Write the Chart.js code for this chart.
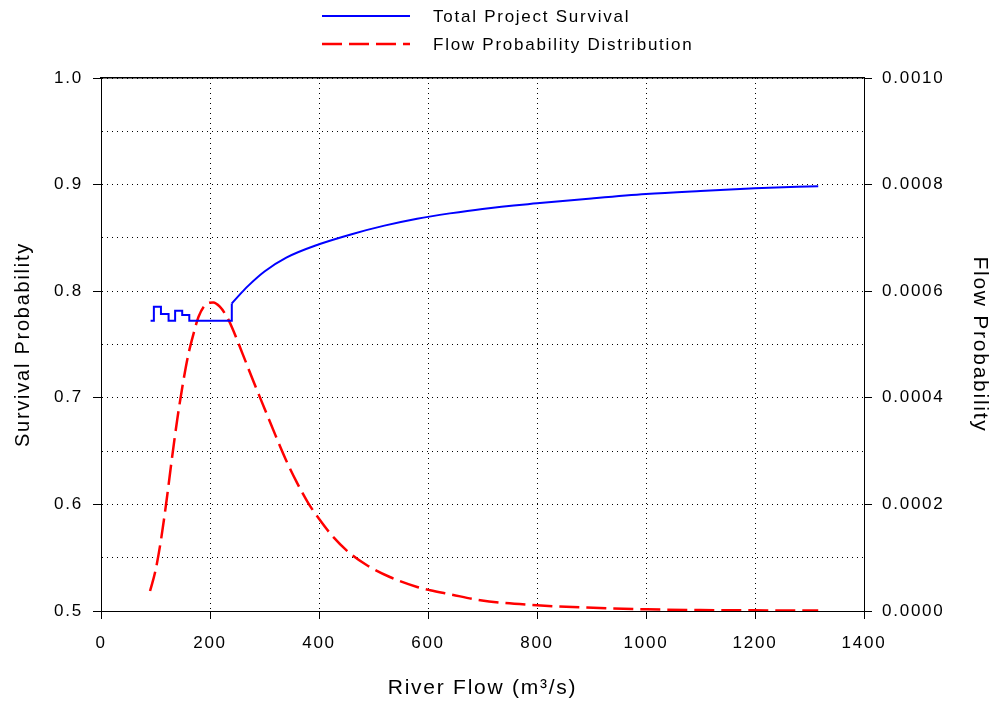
<!DOCTYPE html>
<html>
<head>
<meta charset="utf-8">
<script src="https://cdn.jsdelivr.net/npm/chart.js@4"></script>
<style>
  html, body { margin: 0; padding: 0; background: #ffffff; }
  #wrap { width: 994px; height: 705px; }
</style>
</head>
<body>
<div id="wrap"><canvas id="c" width="994" height="705"></canvas></div>
<script>
// ---- data ----
// Total project survival: stepped low-flow part, then smooth part
const survivalStepFlow = [91, 97, 97, 110, 110, 124, 124, 136, 136, 149, 149, 162, 162, 240, 240];
const survivalStepValue = [0.7722, 0.7722, 0.7854, 0.7854, 0.7785, 0.7785, 0.7722, 0.7722, 0.7816, 0.7816, 0.7776, 0.7776, 0.7722, 0.7722, 0.7885];
const survivalCurveFlow = [240, 255, 270, 300, 340, 400, 460, 520, 580, 640, 700, 800, 900, 1000, 1100, 1200, 1316];
const survivalCurveValue = [0.7885, 0.7970, 0.8050, 0.8185, 0.8315, 0.8440, 0.8535, 0.8615, 0.8680, 0.8730, 0.8772, 0.8824, 0.8870, 0.8911, 0.8940, 0.8965, 0.8985];

// Flow probability distribution
const distFlow = [90, 100, 110, 120, 130, 140, 150, 160, 170, 179, 191, 206, 218, 231, 240, 260, 280, 300, 320, 340, 360, 380, 400, 426, 457, 488, 530, 580, 604, 641, 696, 800, 891, 1001, 1100, 1196, 1316];
const distValue = [0.0000375, 0.000076, 0.000133, 0.000205, 0.000285, 0.000360, 0.000425, 0.000480, 0.000521, 0.000552, 0.000574, 0.000579, 0.000571, 0.000552, 0.000533, 0.000482, 0.000430, 0.000380, 0.000330, 0.000282, 0.000240, 0.000203, 0.000173, 0.000139, 0.000108, 0.0000858, 0.0000638, 0.0000451, 0.0000389, 0.0000313, 0.0000201, 0.0000107, 0.0000064, 0.0000032, 0.0000018, 0.0000012, 0.0000010];

const seriesNames = ['Total Project Survival', 'Flow Probability Distribution'];
const xTitle = 'River Flow (m\u00B3/s)';
const yTitle = 'Survival Probability';
const y2Title = 'Flow Probability';

const FONT = "'Liberation Sans', Arial, sans-serif";
const SPACING = '1.75px';

const spacingPlugin = {
  id: 'spacing',
  beforeUpdate(chart) { chart.ctx.letterSpacing = SPACING; },
  beforeDraw(chart) { chart.ctx.letterSpacing = SPACING; }
};

const legendPlugin = {
  id: 'customLegend',
  afterDraw(chart) {
    const ctx = chart.ctx;
    ctx.save();
    ctx.letterSpacing = SPACING;
    const rows = [16, 44];
    let row = 0;
    chart.data.datasets.forEach((ds) => {
      if (!ds.inLegend) return;
      const y = rows[row++];
      ctx.beginPath();
      ctx.strokeStyle = ds.borderColor;
      ctx.lineWidth = ds.borderWidth;
      ctx.setLineDash(ds.borderDash || []);
      ctx.moveTo(322, y);
      ctx.lineTo(410, y);
      ctx.stroke();
      ctx.setLineDash([]);
      ctx.fillStyle = '#000';
      ctx.font = '17px ' + FONT;
      ctx.textAlign = 'left';
      ctx.textBaseline = 'middle';
      ctx.fillText(ds.label, 433, y + 1);
    });
    ctx.restore();
  }
};

const toPoints = (xs, ys) => xs.map((f, i) => ({ x: f, y: ys[i] }));
const isMajorY = (v) => Math.round(v * 20) % 2 === 0;

const blueStyle = { borderColor: '#0000ff', borderWidth: 2, pointRadius: 0, fill: false };

new Chart(document.getElementById('c'), {
  type: 'line',
  data: {
    datasets: [
      Object.assign({
        label: seriesNames[0],
        inLegend: true,
        data: toPoints(survivalStepFlow, survivalStepValue),
        yAxisID: 'y', xAxisID: 'x',
        tension: 0
      }, blueStyle),
      Object.assign({
        label: seriesNames[0],
        inLegend: false,
        data: toPoints(survivalCurveFlow, survivalCurveValue),
        yAxisID: 'y', xAxisID: 'x',
        cubicInterpolationMode: 'monotone'
      }, blueStyle),
      {
        label: seriesNames[1],
        inLegend: true,
        data: toPoints(distFlow, distValue),
        yAxisID: 'y2', xAxisID: 'x',
        borderColor: '#ff0000',
        borderWidth: 2.5,
        borderDash: [20, 7],
        pointRadius: 0,
        cubicInterpolationMode: 'monotone',
        fill: false
      }
    ]
  },
  options: {
    responsive: false,
    animation: false,
    devicePixelRatio: 1,
    layout: { padding: { top: 78, left: 0, right: 0, bottom: 0 } },
    plugins: { legend: { display: false }, tooltip: { enabled: false } },
    scales: {
      x: {
        type: 'linear',
        position: 'bottom',
        min: 0, max: 1400,
        ticks: {
          stepSize: 200,
          color: '#000',
          padding: 14,
          maxRotation: 0,
          font: { family: FONT, size: 17 },
          callback: (v) => String(v)
        },
        grid: { color: '#000', lineWidth: 1, tickLength: 8, tickColor: '#000', tickWidth: 1 },
        border: { display: true, color: '#000', width: 1, dash: [1, 4] },
        title: { display: true, text: xTitle, color: '#000', font: { family: FONT, size: 21 }, padding: { top: 0, bottom: 4 } },
        afterFit: (s) => { s.height = 94; }
      },
      xTop: {
        type: 'linear',
        position: 'top',
        min: 0, max: 1400,
        ticks: { display: false },
        grid: { drawOnChartArea: false, drawTicks: false },
        border: { display: true, color: '#000', width: 1.5 },
        afterFit: (s) => { s.height = 0; }
      },
      y: {
        type: 'linear',
        position: 'left',
        min: 0.5, max: 1.0,
        ticks: {
          stepSize: 0.05,
          color: '#000',
          padding: 10,
          font: { family: FONT, size: 17 },
          callback: (v) => isMajorY(v) ? v.toFixed(1) : ''
        },
        grid: {
          color: '#000', lineWidth: 1, tickLength: 8, tickWidth: 1,
          tickColor: (ctx) => (ctx.tick && isMajorY(ctx.tick.value)) ? '#000' : 'rgba(0,0,0,0)'
        },
        border: { display: true, color: '#000', width: 1, dash: [1, 4] },
        title: { display: true, text: yTitle, color: '#000', font: { family: FONT, size: 20 }, padding: { top: 11, bottom: 0 } },
        afterFit: (s) => { s.width = 101; }
      },
      y2: {
        type: 'linear',
        position: 'right',
        min: 0, max: 0.001,
        ticks: {
          stepSize: 0.0002,
          color: '#000',
          padding: 10,
          font: { family: FONT, size: 17 },
          callback: (v) => v.toFixed(4)
        },
        grid: { drawOnChartArea: false, color: '#000', tickLength: 8, tickColor: '#000', tickWidth: 1 },
        border: { display: true, color: '#000', width: 1 },
        title: { display: true, text: y2Title, color: '#000', font: { family: FONT, size: 21 }, padding: { top: 2, bottom: 0 } },
        afterFit: (s) => { s.width = 130; }
      }
    }
  },
  plugins: [spacingPlugin, legendPlugin]
});
</script>
</body>
</html>
